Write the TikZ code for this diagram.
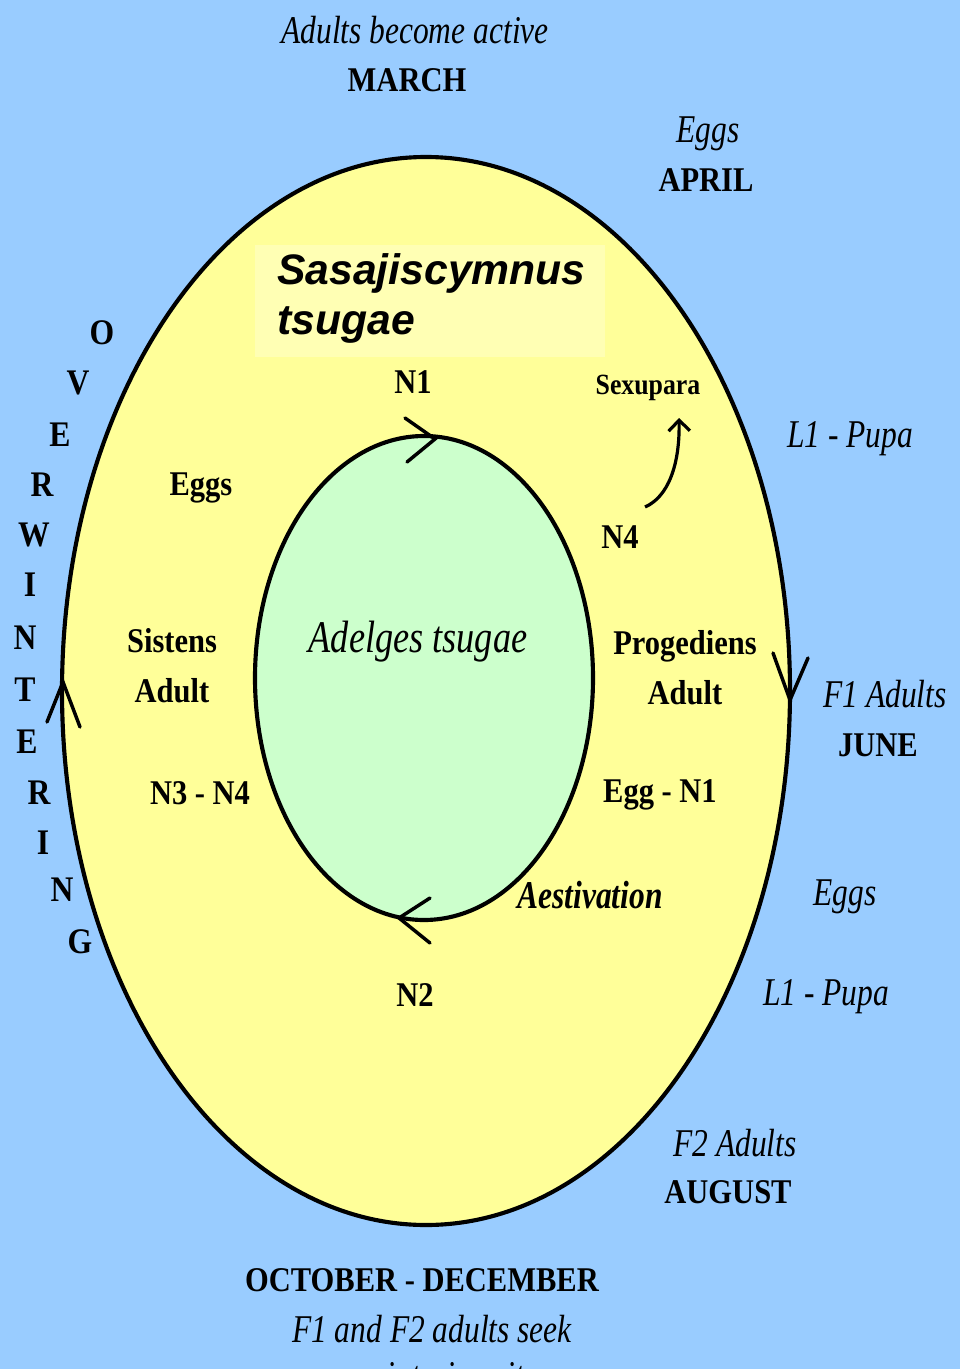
\documentclass[tikz,border=0pt]{standalone}
\usepackage{fontspec}
\setmainfont{Liberation Serif}[FakeStretch=0.88]
\newfontfamily\itfont{Liberation Serif}[FakeStretch=0.8]
\newfontfamily\titlefont{Liberation Sans}
\usetikzlibrary{arrows.meta}
\definecolor{skyblue}{HTML}{99CCFF}
\definecolor{paleyellow}{HTML}{FFFF99}
\definecolor{lightyellow}{HTML}{FFFFB4}
\definecolor{palegreen}{HTML}{CCFFCC}
\tikzset{
  bl/.style={inner sep=0pt, font=\fontsize{26}{37.5}\selectfont\bfseries, align=center},
  it/.style={inner sep=0pt, font=\itfont\fontsize{29.5}{37.5}\selectfont\itshape, align=center},
  sm/.style={inner sep=0pt, font=\fontsize{22}{26}\selectfont\bfseries},
  letter/.style={inner sep=0pt, font=\fontsize{27}{28}\selectfont\bfseries},
  ring/.style={line width=3.1pt, draw=black},
  chev/.style={line width=2.6pt, line cap=round, line join=miter},
}
\begin{document}
\begin{tikzpicture}[x=0.75pt, y=-0.75pt]
\useasboundingbox (0,0) rectangle (960,1369);
\clip (0,0) rectangle (960,1369);
\fill[skyblue] (0,0) rectangle (960,1369);
% outer ellipse
\draw[ring, fill=paleyellow] (426,691) ellipse [x radius=273pt, y radius=400.5pt];
% title box
\fill[lightyellow] (255,245) rectangle (605,357);
% inner ellipse
\draw[ring, fill=palegreen] (424,678) ellipse [x radius=126.75pt, y radius=181.5pt];
% chevrons on cycles
\draw[chev] (405,418) -- (435,439) -- (407,462);
\draw[chev] (430,898) -- (399,918) -- (430,943);
\draw[chev] (773,653) -- (790,700) -- (808,658);
\draw[chev] (47,722) -- (63,682) -- (80,727);

% texts
\node[it] (adults) at (415,30) {Adults become active};
\node[bl] (march) at (407,80) {MARCH};
\node[it] (eggsapr) at (708,134) {Eggs};
\node[bl] (april) at (706,180) {APRIL};
\node[inner sep=0pt, anchor=north west, align=left,
      font=\fontsize{32}{37.5}\selectfont\titlefont\bfseries\itshape] (title) at (277,253) {Sasajiscymnus\\tsugae};

\node[letter] (o1) at (102,333) {O};
\node[letter] (o2) at (78,383) {V};
\node[letter] (o3) at (60,435) {E};
\node[letter] (o4) at (42,485) {R};
\node[letter] (o5) at (34,535) {W};
\node[letter] (o6) at (30,585) {I};
\node[letter] (o7) at (25,638) {N};
\node[letter] (o8) at (25,690) {T};
\node[letter] (o9) at (27,742) {E};
\node[letter] (o10) at (39,793) {R};
\node[letter] (o11) at (43,843) {I};
\node[letter] (o12) at (62,890) {N};
\node[letter] (o13) at (80,942) {G};

\node[bl] (n1) at (413,382) {N1};
\node[sm] (sexupara) at (648,388) {Sexupara};
\node[it] (l1a) at (850,439) {L1 - Pupa};
\node[bl] (eggsl) at (201,488) {Eggs};
\node[bl] (n4) at (620,537) {N4};
\node[bl] (sistens) at (172,666) {Sistens\\Adult};
\node[inner sep=0pt, font=\itfont\fontsize{34}{36}\selectfont\itshape] (adelges) at (418,642) {Adelges tsugae};
\node[bl] (progediens) at (685,668) {Progediens\\Adult};
\node[it] (f1) at (885,694) {F1 Adults};
\node[bl] (june) at (878,745) {JUNE};
\node[bl] (n3n4) at (200,793) {N3 - N4};
\node[bl] (eggn1) at (660,795) {Egg - N1};
\node[inner sep=0pt, font=\itfont\fontsize{29.5}{30}\selectfont\bfseries\itshape] (aest) at (590,895) {Aestivation};
\node[it] (eggsr) at (845,897) {Eggs};
\node[bl] (n2) at (415,995) {N2};
\node[it] (l1b) at (826,997) {L1 - Pupa};
\node[it] (f2) at (735,1143) {F2 Adults};
\node[bl] (august) at (728,1192) {AUGUST};
\node[bl] (octdec) at (422,1280) {OCTOBER - DECEMBER};
\node[it] (seek) at (432,1329) {F1 and F2 adults seek};
\node[it] (sites) at (430,1380) {overwintering sites};

% N4 -> Sexupara curved arrow
\coordinate (tailN4) at ([shift={(25,-30)}]n4.center);
\coordinate (headSx) at ([shift={(31,30)}]sexupara.center);
\draw[line width=2.4pt, -{Straight Barb[length=8pt, width=16pt, line width=2.4pt]}]
  (tailN4) .. controls (668,497) and (680,465) .. (headSx);
\end{tikzpicture}
\end{document}
